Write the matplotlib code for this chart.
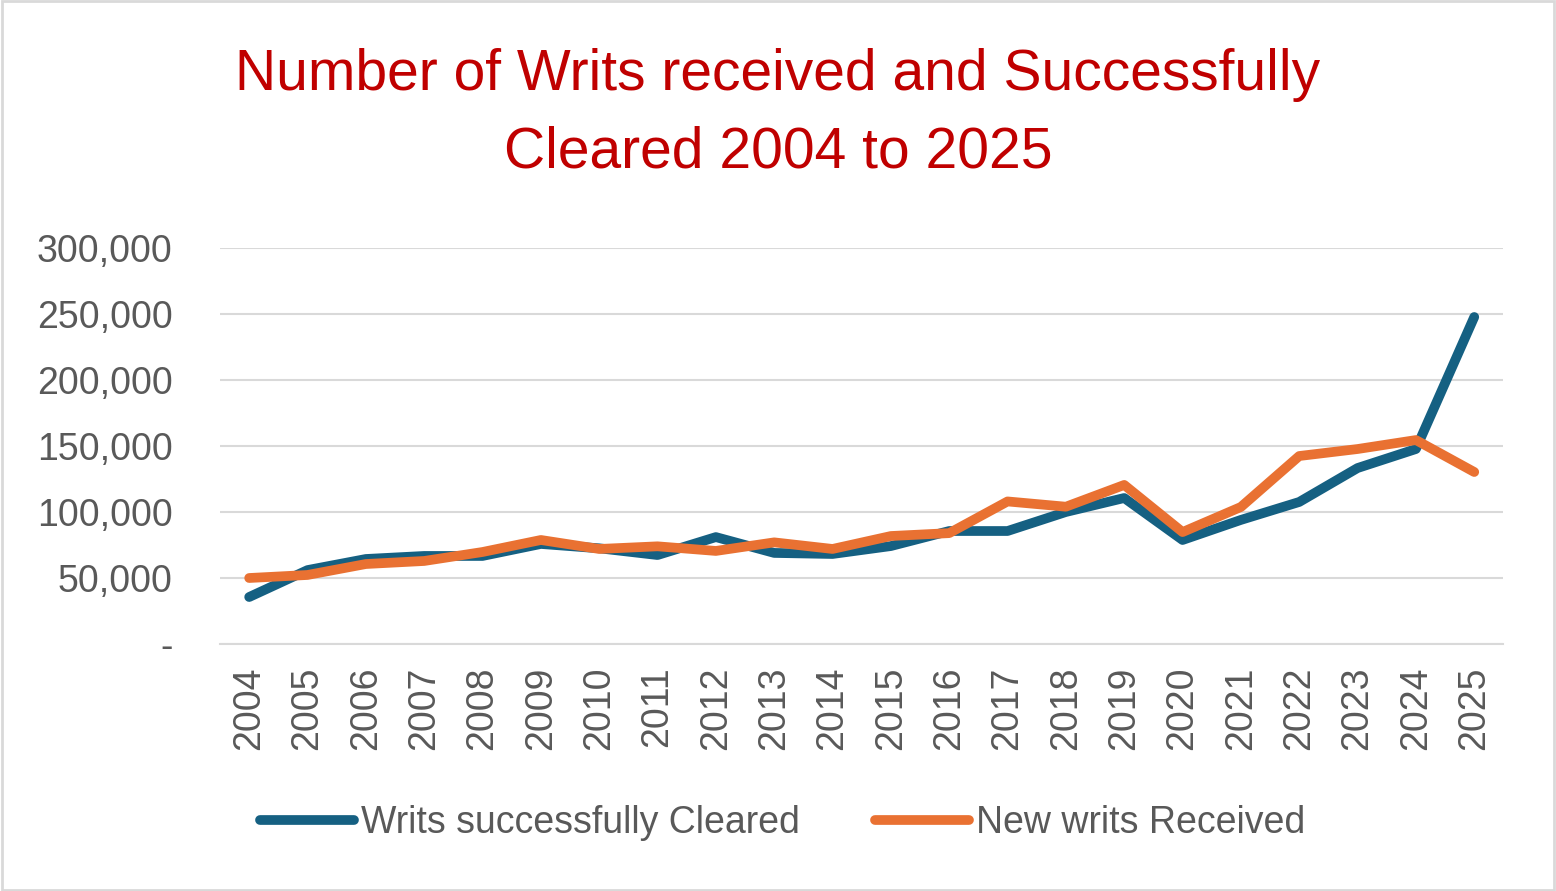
import matplotlib.pyplot as plt
from matplotlib.patches import Rectangle
from matplotlib.ticker import FuncFormatter

years = [str(y) for y in range(2004, 2026)]
cleared = [35600, 56000, 64400, 66700, 66700, 75800, 72500, 67400, 81000, 69000, 68200,
           74200, 85600, 85600, 100000, 110600, 78800, 94000, 107600, 133300, 147700, 247700]
received = [50000, 52300, 60600, 62900, 69700, 78800, 72000, 74000, 70500, 77000, 72000,
            81800, 84000, 108000, 104000, 120500, 84800, 103800, 142400, 147700, 154500, 130300]

plt.rcParams['font.family'] = ['Liberation Sans', 'DejaVu Sans']

fig = plt.figure(figsize=(15.56, 8.91), dpi=100)
ax = fig.add_axes([0.1414, 0.2772, 0.8248, 0.4445])

x = range(len(years))
ax.plot(x, cleared, color='#156082', lw=7, solid_capstyle='round', solid_joinstyle='round',
        label='Writs successfully Cleared', zorder=3)
ax.plot(x, received, color='#E97132', lw=7, solid_capstyle='round', solid_joinstyle='round',
        label='New writs Received', zorder=4)

ax.set_xlim(-0.5, len(years) - 0.5)
ax.set_ylim(0, 300000)
ax.set_yticks(range(0, 300001, 50000))
ax.yaxis.set_major_formatter(FuncFormatter(lambda v, p: '-' if v == 0 else f'{int(v):,}'))
ax.set_xticks(list(x))
ax.set_xticklabels(years, rotation=90)
ax.grid(axis='y', color='#D9D9D9', lw=1.5)
ax.set_axisbelow(True)
for s in ['top', 'right', 'left']:
    ax.spines[s].set_visible(False)
ax.spines['bottom'].set_color('#D9D9D9')
ax.spines['bottom'].set_linewidth(1.5)
ax.tick_params(axis='both', length=0, labelsize=27, colors='#595959')
ax.tick_params(axis='y', pad=34)
ax.tick_params(axis='x', pad=16)

fig.text(0.5, 0.872, 'Number of Writs received and Successfully\nCleared 2004 to 2025',
         ha='center', va='center', fontsize=41, color='#C00000', linespacing=1.55)

fig.legend(loc='center', bbox_to_anchor=(0.503, 0.076), ncol=2, frameon=False,
           fontsize=27, labelcolor='#595959', handlelength=2.5, handletextpad=0.2,
           columnspacing=2.0)

fig.patches.append(Rectangle((0.001, 0.001), 0.998, 0.998, transform=fig.transFigure,
                             fill=False, edgecolor='#D9D9D9', lw=2))

fig.savefig('out.png', dpi=100)
